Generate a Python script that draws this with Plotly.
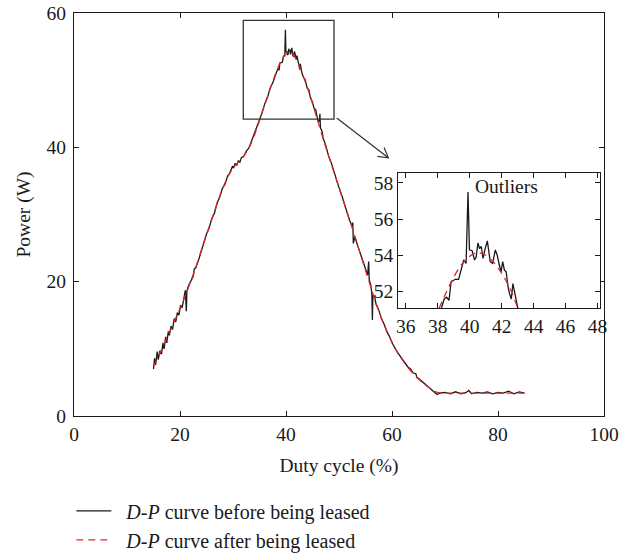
import math
import plotly.graph_objects as go

# ---- data: measured D-P curve (before) ----
duty_before = [15.0, 15.2, 15.4, 15.7, 15.9, 16.2, 16.5, 16.8, 17.0, 17.3, 17.5, 17.8, 18.0, 18.3, 18.6,
               18.9, 19.2, 19.5, 19.8, 20.1, 20.4, 20.7, 21.0, 21.2, 21.3, 21.6, 22.0, 22.5, 22.7, 23.0,
               23.5, 24.0, 24.5, 25.0, 25.5, 26.0, 26.5, 27.0, 27.5, 28.0, 28.5, 29.0, 29.3, 29.6, 29.9,
               30.1, 30.4, 30.7, 31.0, 31.3, 31.6, 32.0, 32.5, 33.0, 33.5, 34.0, 34.5, 35.0, 35.5, 36.0,
               36.5, 37.0, 37.5, 38.0, 38.23, 38.4, 38.55, 38.7, 38.83, 39.09, 39.3, 39.47, 39.62, 39.77,
               39.89, 39.98, 40.15, 40.3, 40.4, 40.51, 40.62, 40.72, 40.83, 40.96, 41.1, 41.28, 41.43,
               41.6, 41.72, 41.85, 41.96, 42.06, 42.17, 42.28, 42.38, 42.49, 42.6, 42.7, 42.81, 42.96,
               43.02, 43.3, 43.6, 44.0, 44.3, 44.6, 45.0, 45.3, 45.6, 46.0, 46.3, 46.4, 46.5, 46.8, 47.0,
               47.5, 48.0, 48.5, 49.0, 49.5, 50.0, 50.5, 51.0, 51.5, 52.0, 52.5, 52.6, 52.7, 53.0, 53.5,
               54.0, 54.5, 55.0, 55.4, 55.6, 55.7, 56.0, 56.2, 56.3, 56.4, 56.7, 57.0, 57.5, 58.0, 58.5,
               59.0, 59.5, 60.0, 61.0, 62.0, 63.0, 63.5, 64.0, 64.5, 64.7, 65.0, 66.0, 67.0, 67.5, 68.0,
               68.5, 69.0, 70.0, 71.0, 72.0, 73.0, 74.0, 74.5, 75.0, 76.0, 77.0, 78.0, 79.0, 80.0, 81.0,
               82.0, 83.0, 84.0, 85.0]
power_before = [7.0, 8.6, 7.6, 9.6, 8.4, 9.7, 9.2, 10.9, 10.0, 11.8, 10.9, 12.6, 12.0, 13.4, 12.9,
                14.5, 14.0, 15.4, 15.0, 16.5, 16.1, 17.6, 18.7, 15.6, 18.6, 19.4, 20.1, 20.8, 21.9, 22.1,
                23.2, 24.5, 25.6, 27.1, 28.0, 29.4, 30.2, 31.7, 32.6, 33.9, 34.5, 35.8, 36.0, 36.6, 37.2,
                36.9, 37.6, 37.3, 38.0, 37.8, 38.5, 38.6, 39.4, 39.9, 40.9, 41.8, 42.8, 44.1, 45.2, 46.5,
                47.4, 48.8, 49.6, 50.8, 51.08, 51.58, 51.68, 51.5, 52.52, 52.67, 52.67, 53.3, 53.74, 53.55,
                57.5, 54.3, 54.25, 53.74, 53.9, 54.68, 54.36, 54.5, 53.83, 54.36, 54.8, 53.65, 53.55,
                54.3, 54.0, 53.46, 53.08, 53.65, 53.18, 53.08, 52.33, 51.86, 51.58, 52.43, 51.96, 51.21,
                51.02, 50.4, 50.1, 48.8, 48.6, 47.4, 46.7, 45.8, 45.6, 44.0, 43.8, 45.0, 42.9, 42.4, 41.4,
                40.3, 38.8, 37.8, 36.4, 35.4, 34.0, 32.9, 31.5, 30.5, 29.1, 28.3, 28.8, 25.7, 26.7, 25.4,
                24.2, 23.0, 22.0, 21.0, 23.0, 20.3, 19.5, 18.2, 14.3, 18.0, 17.8, 16.6, 15.8, 14.5, 13.7,
                12.6, 11.9, 10.9, 9.5, 8.3, 7.3, 7.0, 6.4, 6.3, 5.7, 5.6, 4.9, 4.3, 3.9, 3.5,
                3.2, 3.4, 3.5, 3.3, 3.6, 3.3, 3.5, 3.8, 3.3, 3.5, 3.4, 3.6, 3.3, 3.5, 3.4,
                3.7, 3.3, 3.6, 3.4]

# ---- data: cleaned D-P curve (after) ----
duty_after = [15, 16, 17, 18, 19, 20, 21, 22, 23, 24, 25, 26, 27, 28, 29, 30, 31, 32, 33, 34, 35, 36, 37,
              38, 38.5, 39, 39.5, 40, 40.5, 41, 41.5, 42, 42.5, 43, 44, 45, 46, 47, 48, 49, 50, 51, 52,
              53, 54, 55, 56, 57, 58, 59, 60, 61, 62, 63, 64, 65, 66, 67, 68, 69, 70, 75, 80, 85]
power_after = [7.4, 9.0, 10.7, 12.4, 14.2, 16.0, 17.9, 20.0, 22.2, 24.6, 27.0, 29.3, 31.6, 33.8, 35.6,
               36.9, 37.8, 38.7, 39.9, 41.7, 44.0, 46.4, 48.7, 50.9, 51.9, 52.8, 53.5, 53.95, 54.15, 54.0,
               53.6, 53.0, 52.2, 51.1, 49.0, 46.5, 43.9, 41.3, 38.8, 36.4, 34.0, 31.6, 29.2, 26.7, 24.2,
               21.7, 19.2, 16.8, 14.6, 12.7, 11.0, 9.5, 8.3, 7.2, 6.3, 5.5, 4.8, 4.2, 3.7, 3.45, 3.4,
               3.4, 3.4, 3.4]

x_ticks = [0, 20, 40, 60, 80, 100]
y_ticks = [0, 20, 40, 60]
inset_x_ticks = [36, 38, 40, 42, 44, 46, 48]
inset_y_ticks = [52, 54, 56, 58]

FONT = "Liberation Serif"
FS = 19.5
BLACK = "#1a1a1a"
RED = "#e3242b"
GRAY = "#333333"
NB = "\u00a0\u00a0"

fig = go.Figure()
fig.add_trace(go.Scatter(x=duty_before, y=power_before, mode="lines",
                         line=dict(color=BLACK, width=1.3),
                         name=NB + "<i>D-P</i> curve before being leased"))
fig.add_trace(go.Scatter(x=duty_after, y=power_after, mode="lines",
                         line=dict(color=RED, width=1.3, dash="7px,5px", shape="spline", smoothing=0.8),
                         name=NB + "<i>D-P</i> curve after being leased"))
# inset
fig.add_trace(go.Scatter(x=duty_before, y=power_before, mode="lines", xaxis="x2", yaxis="y2",
                         line=dict(color=BLACK, width=1.3), showlegend=False))
fig.add_trace(go.Scatter(x=duty_after, y=power_after, mode="lines", xaxis="x2", yaxis="y2",
                         line=dict(color=RED, width=1.3, dash="7px,5px", shape="spline", smoothing=0.8),
                         showlegend=False))

axis_common = dict(showline=True, linecolor=BLACK, linewidth=1.2, mirror="ticks", ticks="inside",
                   ticklen=5, tickwidth=1.2, tickcolor=BLACK, showgrid=False, zeroline=False,
                   tickfont=dict(family=FONT, size=FS, color=BLACK))

fig.update_layout(
    width=630, height=554,
    margin=dict(l=74, r=26, t=13.3, b=138, autoexpand=False),
    paper_bgcolor="white", plot_bgcolor="white",
    font=dict(family=FONT, size=FS, color=BLACK),
    xaxis=dict(range=[0, 100], tickvals=x_ticks, domain=[0, 1],
               title=dict(text="Duty cycle (%)", standoff=14, font=dict(family=FONT, size=FS)),
               **axis_common),
    yaxis=dict(range=[0, 60], tickvals=y_ticks, domain=[0, 1], ticklabelstandoff=3,
               title=dict(text="Power (W)", standoff=10, font=dict(family=FONT, size=FS)),
               **axis_common),
    xaxis2=dict(range=[35.53, 48.17], tickvals=inset_x_ticks, domain=[0.612, 0.993], anchor="y2",
                **axis_common),
    yaxis2=dict(range=[51.06, 58.53], tickvals=inset_y_ticks, domain=[0.267, 0.602], anchor="x2",
                **axis_common),
    legend=dict(x=-0.005, y=-0.187, xanchor="left", yanchor="top", bgcolor="rgba(0,0,0,0)",
                font=dict(family=FONT, size=20, color=BLACK), tracegroupgap=0, itemwidth=35),
    showlegend=True,
)

# zoom box on main axes
fig.add_shape(type="rect", xref="x", yref="y", x0=31.94, x1=49.06, y0=44.2, y1=58.9,
              line=dict(color=GRAY, width=1.3))

# arrow from zoom box to inset (open V head)
ax0, ay0, ax1, ay1 = 49.57, 44.37, 59.3, 38.45
fig.add_shape(type="line", xref="x", yref="y", x0=ax0, y0=ay0, x1=ax1, y1=ay1,
              line=dict(color=GRAY, width=1.2))
pxx, pxy = 530 / 100, 402.7 / 60
dx, dy = (ax1 - ax0) * pxx, (ay1 - ay0) * pxy
L = math.hypot(dx, dy)
ux, uy = dx / L, dy / L
arms = []
for ang in (math.radians(30), math.radians(-30)):
    rx = -(ux * math.cos(ang) - uy * math.sin(ang)) * 11
    ry = -(ux * math.sin(ang) + uy * math.cos(ang)) * 11
    arms.append((ax1 + rx / pxx, ay1 + ry / pxy))
fig.add_shape(type="path", xref="x", yref="y",
              path=f"M {arms[0][0]},{arms[0][1]} L {ax1},{ay1} L {arms[1][0]},{arms[1][1]}",
              line=dict(color=GRAY, width=1.2))

fig.add_annotation(x=42.28, y=57.83, xref="x2", yref="y2", text="Outliers", showarrow=False,
                   font=dict(family=FONT, size=FS, color=BLACK))

# remove the default 8px page margin so the 630x554 figure fills the window exactly
fig.write_html("out.html", config={"displayModeBar": False},
               post_script="document.body.style.margin='0px';")
